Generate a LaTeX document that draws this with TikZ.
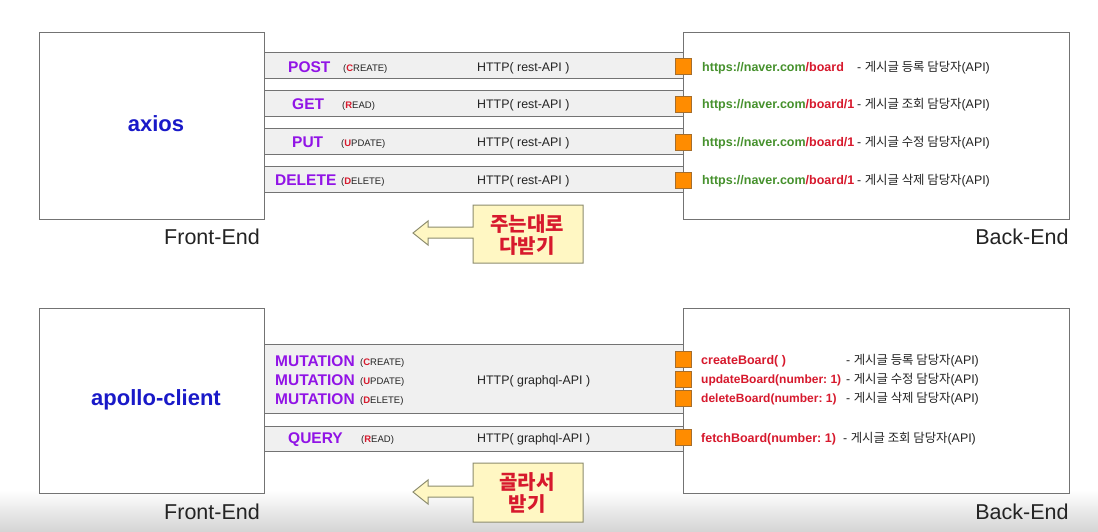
\documentclass[tikz,border=0pt]{standalone}
\usepackage{fontspec}
\setmainfont{Liberation Sans}
\newfontfamily\kr{Noto Sans CJK KR}
\definecolor{purp}{RGB}{145,20,230}
\definecolor{rd}{RGB}{215,25,45}
\definecolor{grn}{RGB}{70,145,45}
\definecolor{blu}{RGB}{25,25,200}
\definecolor{bandfill}{RGB}{240,240,240}
\definecolor{edge}{RGB}{115,115,115}
\definecolor{org}{RGB}{255,140,0}
\definecolor{orgedge}{RGB}{165,110,45}
\definecolor{cfill}{RGB}{255,247,195}
\definecolor{cedge}{RGB}{140,140,110}
\definecolor{txt}{RGB}{35,35,35}
\newcommand{\crudtxt}[2]{({\bfseries\color{rd}#1}#2)}
\frenchspacing
\begin{document}
\begin{tikzpicture}[x=1pt,y=-1pt,
  boxx/.style={draw=edge, line width=1pt, fill=white, inner sep=0pt},
  band/.style={draw=edge, line width=1pt, fill=bandfill},
  sq/.style={draw=orgedge, line width=0.8pt, fill=org, minimum size=16pt, inner sep=0pt},
  lbl/.style={inner sep=0pt, text depth=0pt, anchor=west, text=txt},
  meth/.style={lbl, text height=11.1pt, font=\bfseries\fontsize{15.5}{18}\selectfont, text=purp},
  crud/.style={lbl, text height=6.8pt, font=\fontsize{9.5}{11}\selectfont},
  http/.style={lbl, text height=8.9pt, font=\fontsize{12.4}{15}\selectfont},
  url/.style={lbl, text height=8.95pt, font=\bfseries\fontsize{12.5}{15}\selectfont, text=rd},
  urlsm/.style={lbl, text height=8.6pt, font=\bfseries\fontsize{12}{15}\selectfont, text=rd},
  desc/.style={lbl, text height=8.9pt, font=\fontsize{12.4}{15}\selectfont},
  lib/.style={inner sep=0pt, text height=15.75pt, text depth=0pt, font=\bfseries\fontsize{22}{26}\selectfont, text=blu},
  endlbl/.style={inner sep=0pt, text height=15.4pt, text depth=0pt, font=\fontsize{21.5}{25}\selectfont, text=txt},
  callout/.style={draw=cedge, line width=1pt, fill=cfill},
  calltxt/.style={align=center, inner sep=0pt, text=rd, font=\kr\bfseries\fontsize{20}{22}\selectfont}
]
\useasboundingbox (0,0) rectangle (1098,532);
\fill[white] (0,0) rectangle (1098,532);
\shade[top color=white, bottom color=black!17] (0,490) rectangle (1098,532);

% ---------- top: axios ----------
\node[boxx, minimum width=225pt, minimum height=186pt] (fe1) at (151.5,126) {};
\node[boxx, minimum width=386pt, minimum height=186pt] (be1) at (876,126) {};
\node[lib] (ax) at (156,124) {axios};
\node[endlbl] (fel1) at (212,237) {Front-End};
\node[endlbl] (bel1) at (1022,237) {Back-End};

\path[band] (264,53) rectangle (683,79);
\path[band] (264,91) rectangle (683,117);
\path[band] (264,129) rectangle (683,155);
\path[band] (264,167) rectangle (683,192);

\node[sq] (s1) at (683.5,66) {};
\node[sq] (s2) at (683.5,104) {};
\node[sq] (s3) at (683.5,142) {};
\node[sq] (s4) at (683.5,180) {};

\node[meth] (m1) at (288,67) {POST};
\node[crud] (c1) at (343,68) {\crudtxt{C}{REATE}};
\node[meth] (m2) at (292,104) {GET};
\node[crud] (c2) at (342,105) {\crudtxt{R}{EAD}};
\node[meth] (m3) at (292,142) {PUT};
\node[crud] (c3) at (341,143) {\crudtxt{U}{PDATE}};
\node[meth] (m4) at (275,180) {DELETE};
\node[crud] (c4) at (341,181) {\crudtxt{D}{ELETE}};

\node[http] (h1) at (477,67) {HTTP( rest-API )};
\node[http] (h2) at (477,104) {HTTP( rest-API )};
\node[http] (h3) at (477,142) {HTTP( rest-API )};
\node[http] (h4) at (477,180) {HTTP( rest-API )};

\node[url] (u1) at (702,67) {{\color{grn}https://naver.com}/board};
\node[url] (u2) at (702,104) {{\color{grn}https://naver.com}/board/1};
\node[url] (u3) at (702,142) {{\color{grn}https://naver.com}/board/1};
\node[url] (u4) at (702,180) {{\color{grn}https://naver.com}/board/1};
\node[desc] (d1) at (857,67) {- {\kr 게시글 등록 담당자}(API)};
\node[desc] (d2) at (857,104) {- {\kr 게시글 조회 담당자}(API)};
\node[desc] (d3) at (857,142) {- {\kr 게시글 수정 담당자}(API)};
\node[desc] (d4) at (857,180) {- {\kr 게시글 삭제 담당자}(API)};

\path[callout] (473,205) -- (583,205) -- (583,263) -- (473,263) -- (473,238)
  -- (428,238) -- (428,245) -- (413,233) -- (428,221) -- (428,227) -- (473,227) -- cycle;
\node[calltxt] (k1) at (527,235) {주는대로\\다받기};

% ---------- bottom: apollo-client ----------
\node[boxx, minimum width=225pt, minimum height=185pt] (fe2) at (151.5,400.5) {};
\node[boxx, minimum width=386pt, minimum height=185pt] (be2) at (876,400.5) {};
\node[lib] (ap) at (156,398) {apollo-client};
\node[endlbl] (fel2) at (212,512) {Front-End};
\node[endlbl] (bel2) at (1022,512) {Back-End};

\path[band] (264,344) rectangle (683,413);
\path[band] (264,426) rectangle (683,451);

\node[sq] (s5) at (683.5,359) {};
\node[sq] (s6) at (683.5,379) {};
\node[sq] (s7) at (683.5,398) {};
\node[sq] (s8) at (683.5,437) {};

\node[meth] (m5) at (275,361) {MUTATION};
\node[crud] (c5) at (360,362) {\crudtxt{C}{REATE}};
\node[meth] (m6) at (275,380) {MUTATION};
\node[crud] (c6) at (360,381) {\crudtxt{U}{PDATE}};
\node[meth] (m7) at (275,399) {MUTATION};
\node[crud] (c7) at (360,400) {\crudtxt{D}{ELETE}};
\node[meth] (m8) at (288,438) {QUERY};
\node[crud] (c8) at (361,439) {\crudtxt{R}{EAD}};

\node[http] (h5) at (477,380) {HTTP( graphql-API )};
\node[http] (h6) at (477,438) {HTTP( graphql-API )};

\node[url] (u5) at (701,360) {createBoard( )};
\node[urlsm] (u6) at (701,379) {updateBoard(number: 1)};
\node[urlsm] (u7) at (701,398) {deleteBoard(number: 1)};
\node[url] (u8) at (701,438) {fetchBoard(number: 1)};
\node[desc] (d5) at (846,360) {- {\kr 게시글 등록 담당자}(API)};
\node[desc] (d6) at (846,379) {- {\kr 게시글 수정 담당자}(API)};
\node[desc] (d7) at (846,398) {- {\kr 게시글 삭제 담당자}(API)};
\node[desc] (d8) at (843,438) {- {\kr 게시글 조회 담당자}(API)};

\path[callout] (473,463) -- (583,463) -- (583,522) -- (473,522) -- (473,497)
  -- (428,497) -- (428,504) -- (413,492) -- (428,480) -- (428,486) -- (473,486) -- cycle;
\node[calltxt] (k2) at (527,493) {골라서\\받기};
\end{tikzpicture}
\end{document}
